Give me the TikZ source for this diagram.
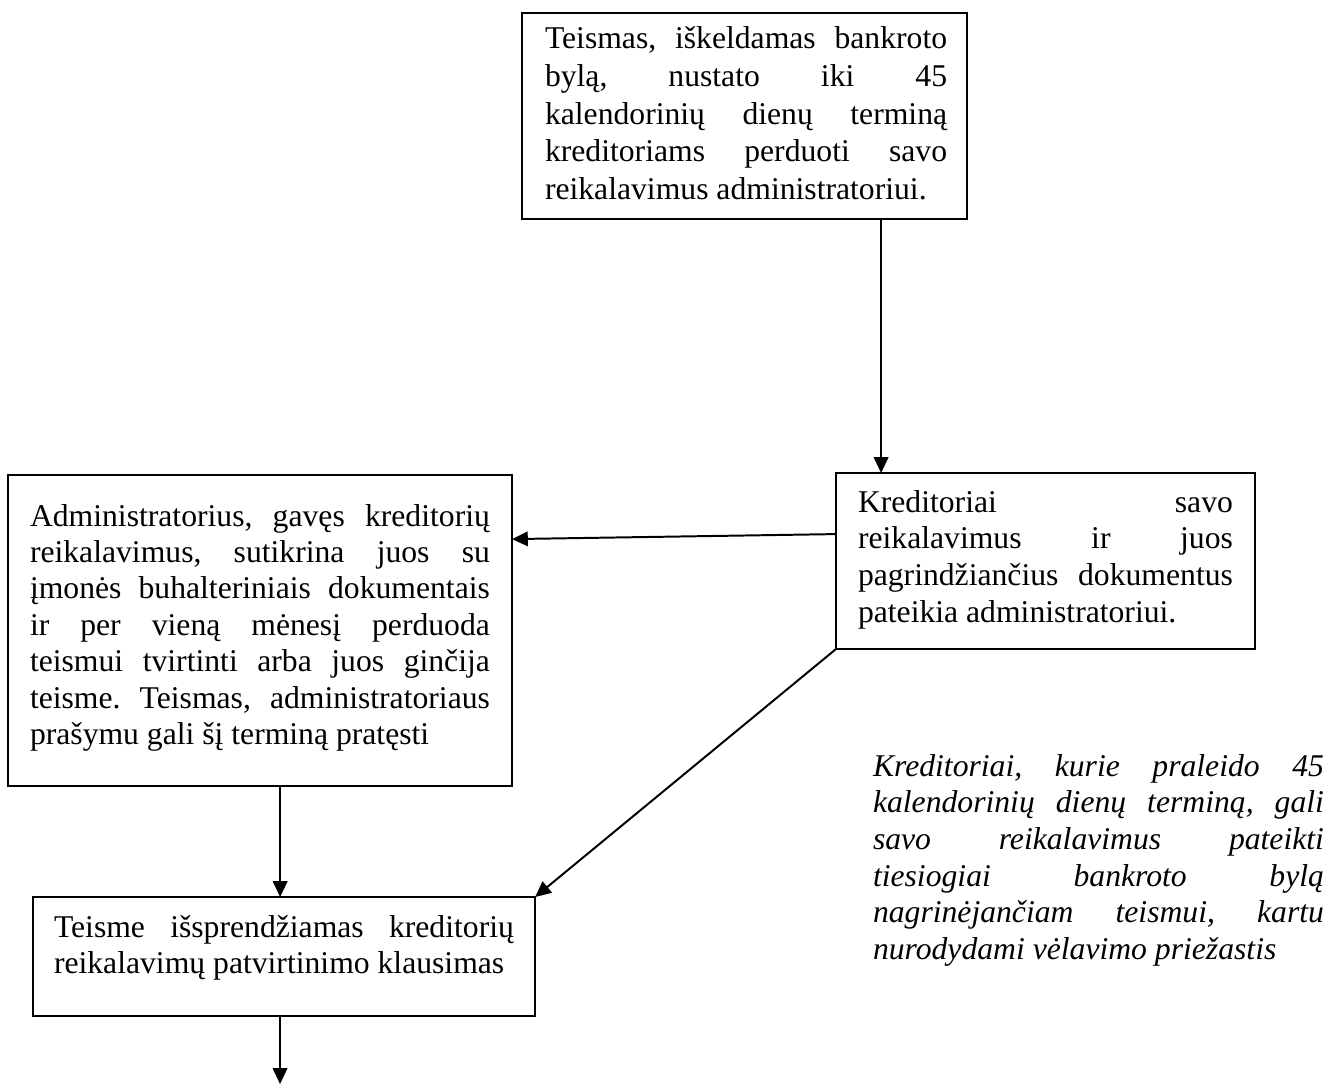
\documentclass[tikz,border=0pt]{standalone}
\usepackage{fontspec}
\setmainfont{Liberation Serif}
\usetikzlibrary{arrows.meta,calc}
\tolerance=10000
\hbadness=10000
\hyphenpenalty=10000
\exhyphenpenalty=10000
\frenchspacing
\begin{document}
\begin{tikzpicture}[x=0.379pt,y=-0.379pt,
  box/.style={draw, line width=0.5pt, inner sep=0pt, outer sep=0pt, anchor=north west},
  txt/.style={inner sep=0pt, outer sep=0pt, anchor=base west, align=justify, font=\fontsize{12pt}{14pt}\selectfont},
  arr/.style={line width=0.75pt, -{Triangle[length=6pt,width=5.5pt]}}]
\useasboundingbox[fill=white] (0,0) rectangle (1330,1085);

% boxes
\node[box, minimum width=168.7pt, minimum height=78.1pt] (b1) at (522,13) {};
\node[box, minimum width=158.8pt, minimum height=66.7pt] (b2) at (836,473) {};
\node[box, minimum width=191.0pt, minimum height=117.9pt] (b3) at (8,475) {};
\node[box, minimum width=190.3pt, minimum height=45.1pt] (b4) at (33,897) {};

% texts
\node[txt, text width=152.4pt, font=\fontsize{12pt}{14.4pt}\selectfont] (t1) at (545,48)
 {Teismas, iškeldamas bankroto\linebreak bylą, nustato iki 45\linebreak kalendorinių dienų terminą\linebreak kreditoriams perduoti savo\linebreak reikalavimus administratoriui.};
\node[txt, text width=142.1pt] (t2) at (858,512)
 {Kreditoriai savo\linebreak reikalavimus ir juos\linebreak pagrindžiančius dokumentus\linebreak pateikia administratoriui.};
\node[txt, text width=174.3pt, font=\fontsize{12pt}{13.8pt}\selectfont] (t3) at (30,526)
 {Administratorius, gavęs kreditorių\linebreak reikalavimus, sutikrina juos su\linebreak įmonės buhalteriniais dokumentais\linebreak ir per vieną mėnesį perduoda\linebreak teismui tvirtinti arba juos ginčija\linebreak teisme. Teismas, administratoriaus\linebreak prašymu gali šį terminą pratęsti};
\node[txt, text width=174.3pt] (t4) at (54,937)
 {Teisme išsprendžiamas kreditorių\linebreak reikalavimų patvirtinimo klausimas};
\node[txt, text width=170.9pt, font=\fontsize{12pt}{13.9pt}\selectfont\itshape] (note) at (873,776)
 {Kreditoriai, kurie praleido 45\linebreak kalendorinių dienų terminą, gali\linebreak savo reikalavimus pateikti\linebreak tiesiogiai bankroto bylą\linebreak nagrinėjančiam teismui, kartu\linebreak nurodydami vėlavimo priežastis};

% connectors
\coordinate (p1) at ($(b1.south west)!0.8067!(b1.south east)$);
\draw[arr] (p1) -- (p1 |- b2.north);
\draw[arr] ($(b2.north west)!0.347!(b2.south west)$) -- ($(b3.north east)!0.206!(b3.south east)$);
\draw[arr] (b2.south west) -- (b4.north east);
\coordinate (p3) at ($(b3.south west)!0.540!(b3.south east)$);
\draw[arr] (p3) -- (p3 |- b4.north);
\coordinate (p4) at ($(b4.south west)!0.492!(b4.south east)$);
\coordinate (end) at (p4 |- 0,1084);
\draw[arr] (p4) -- (end);
\end{tikzpicture}
\end{document}
